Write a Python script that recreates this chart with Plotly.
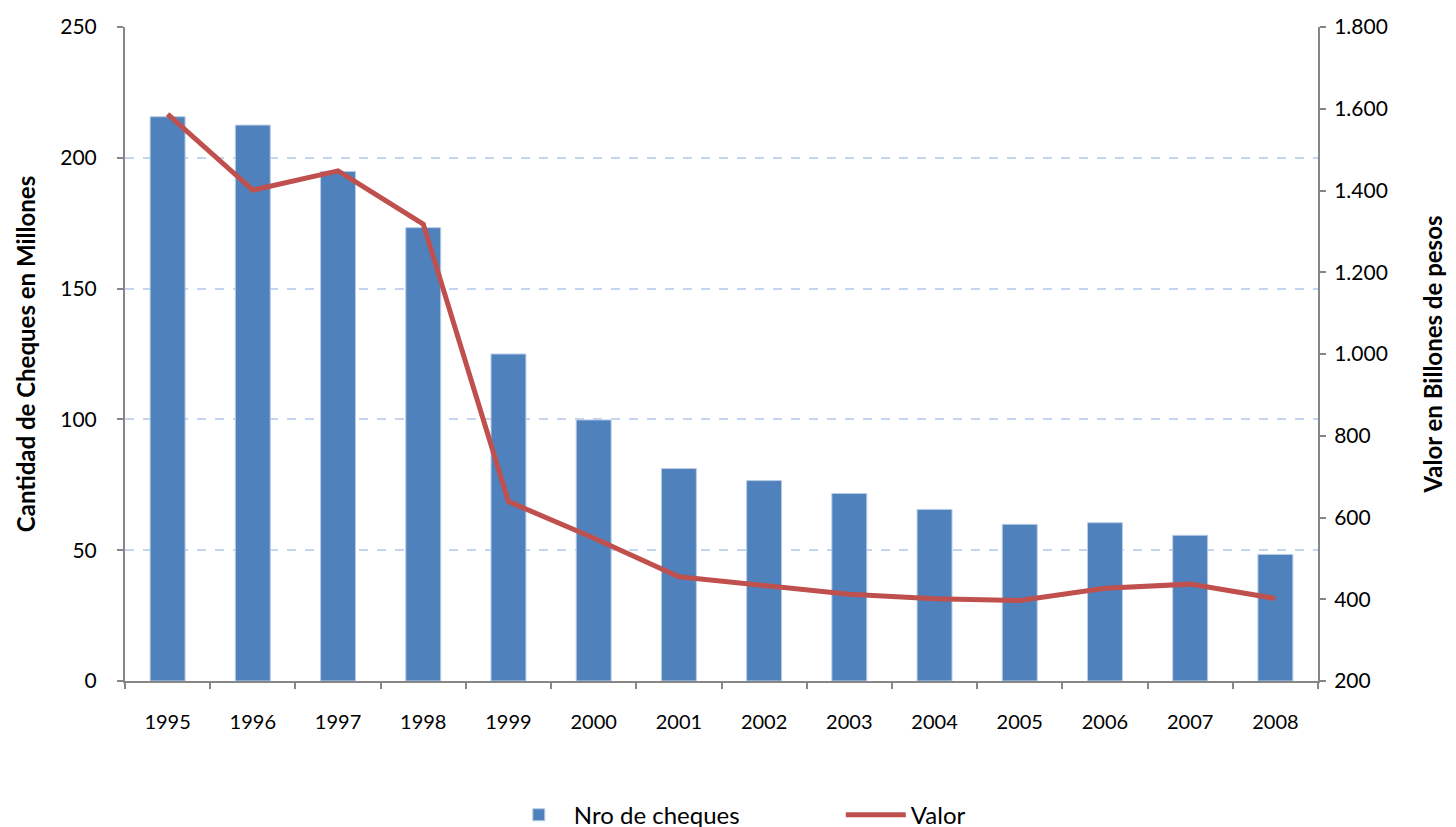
import plotly.graph_objects as go

years = ["1995", "1996", "1997", "1998", "1999", "2000", "2001",
         "2002", "2003", "2004", "2005", "2006", "2007", "2008"]
nro_cheques = [215.7, 212.5, 194.8, 173.3, 125.0, 99.8, 81.2,
               76.6, 71.7, 65.6, 59.9, 60.5, 55.7, 48.4]
valor = [1587, 1401, 1448, 1318, 639, 550, 455,
         434, 412, 401, 397, 427, 437, 402]

font_family = "Lato, 'Open Sans', sans-serif"
axis_color = "#868686"

fig = go.Figure()
fig.add_trace(go.Bar(
    x=years, y=nro_cheques, name="Nro de cheques",
    marker=dict(color="#4F81BD", line=dict(color="#B9CDE5", width=1)),
    width=0.41, yaxis="y",
))
fig.add_trace(go.Scatter(
    x=years, y=valor, name="Valor", mode="lines",
    line=dict(color="#C0504D", width=5), yaxis="y2",
))

fig.update_layout(
    width=1456, height=827,
    margin=dict(l=117, r=146, t=19, b=154),
    paper_bgcolor="white", plot_bgcolor="white",
    separators=",.",
    font=dict(family=font_family, size=20, color="black"),
    showlegend=True,
    legend=dict(orientation="h", xref="paper", x=0.60, xanchor="center",
                yref="container", y=0.024, yanchor="middle",
                font=dict(size=24), entrywidth=262, entrywidthmode="pixels",
                itemwidth=60, traceorder="normal"),
    xaxis=dict(
        type="category", showline=True, linecolor=axis_color, linewidth=2,
        ticks="outside", tickson="boundaries", ticklen=6, tickcolor=axis_color,
        tickwidth=2, showgrid=False, tickfont=dict(size=20), mirror=False,
        automargin=False, ticklabelstandoff=22,
    ),
    yaxis=dict(
        range=[0, 250], dtick=50, showline=True, linecolor=axis_color, linewidth=2,
        ticks="outside", ticklen=6, tickcolor=axis_color, tickwidth=2,
        showgrid=True, gridcolor="#C5D5EF", griddash="dash", gridwidth=1.5,
        zeroline=False, tickfont=dict(size=21), automargin=False, ticklabelstandoff=16,
        title=dict(text="<b>Cantidad de Cheques en Millones</b>", font=dict(size=24), standoff=18),
    ),
    yaxis2=dict(
        range=[200, 1800], dtick=200, overlaying="y", side="right",
        showline=True, linecolor=axis_color, linewidth=2,
        ticks="outside", ticklen=6, tickcolor=axis_color, tickwidth=2,
        showgrid=False, zeroline=False, tickformat=",.0f", tickfont=dict(size=21),
        automargin=False, ticklabelstandoff=4,
        title=dict(text="<b>Valor en Billones de pesos</b>", font=dict(size=24), standoff=38),
    ),
)

fig.write_html("out.html")
